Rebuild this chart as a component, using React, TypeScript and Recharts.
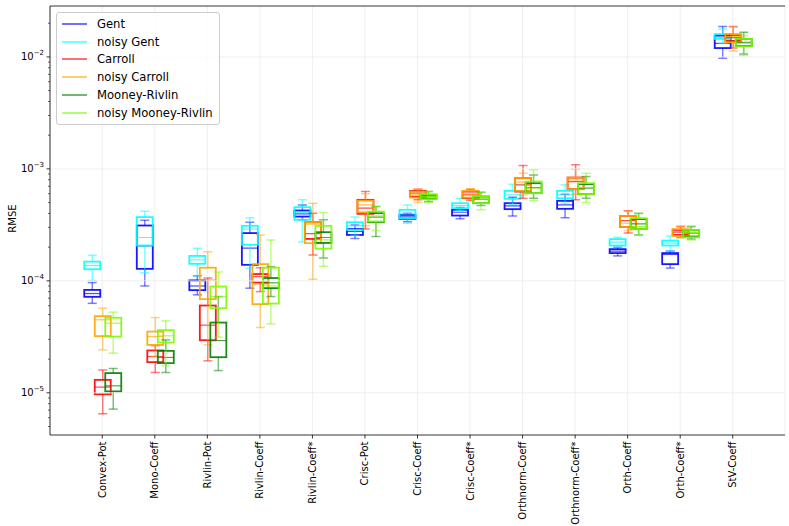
import { ComposedChart, Bar, XAxis, YAxis, CartesianGrid, ReferenceLine, Legend } from 'recharts'

const FONT = '"DejaVu Sans", sans-serif'

// ── Data: [lower whisker, q1, median, q3, upper whisker] per category ──────
const CATEGORIES = [
  'Convex-Pot', 'Mono-Coeff', 'Rivlin-Pot', 'Rivlin-Coeff', 'Rivlin-Coeff*', 'Crisc-Pot',
  'Crisc-Coeff', 'Crisc-Coeff*', 'Orthnorm-Coeff', 'Orthnorm-Coeff*', 'Orth-Coeff', 'Orth-Coeff*', 'StV-Coeff',
]

const GENT = [
  [6.3e-5, 7.2e-5, 7.7e-5, 8.3e-5, 9.65e-5],
  [9.0e-5, 1.28e-4, 2.05e-4, 3.12e-4, 3.48e-4],
  [7.5e-5, 8.26e-5, 9.0e-5, 1.01e-4, 1.11e-4],
  [8.6e-5, 1.39e-4, 1.96e-4, 2.67e-4, 3.34e-4],
  [3.51e-4, 3.75e-4, 3.97e-4, 4.25e-4, 4.77e-4],
  [2.39e-4, 2.57e-4, 2.76e-4, 2.9e-4, 3.16e-4],
  [3.38e-4, 3.58e-4, 3.73e-4, 3.88e-4, 4.02e-4],
  [3.58e-4, 3.83e-4, 4.1e-4, 4.31e-4, 4.51e-4],
  [3.8e-4, 4.37e-4, 4.67e-4, 4.94e-4, 5.58e-4],
  [3.67e-4, 4.4e-4, 4.77e-4, 5.18e-4, 5.94e-4],
  [1.67e-4, 1.77e-4, 1.84e-4, 1.92e-4, 2.0e-4],
  [1.3e-4, 1.41e-4, 1.72e-4, 1.77e-4, 1.85e-4],
  [9.73e-3, 1.2e-2, 1.32e-2, 1.55e-2, 1.87e-2],
]

const NOISY_GENT = [
  [1.007e-4, 1.27e-4, 1.37e-4, 1.485e-4, 1.69e-4],
  [1.18e-4, 2.07e-4, 2.44e-4, 3.71e-4, 4.19e-4],
  [1.11e-4, 1.42e-4, 1.54e-4, 1.67e-4, 1.96e-4],
  [1.3e-4, 2.1e-4, 2.9e-4, 3.1e-4, 3.67e-4],
  [2.22e-4, 3.51e-4, 4.07e-4, 4.55e-4, 5.29e-4],
  [2.56e-4, 2.85e-4, 3.1e-4, 3.34e-4, 3.71e-4],
  [3.27e-4, 3.63e-4, 3.97e-4, 4.31e-4, 4.77e-4],
  [4.25e-4, 4.46e-4, 4.7e-4, 4.94e-4, 5.47e-4],
  [4.84e-4, 5.4e-4, 5.86e-4, 6.36e-4, 7.3e-4],
  [4.94e-4, 5.47e-4, 5.86e-4, 6.36e-4, 7.2e-4],
  [2.0e-4, 2.07e-4, 2.22e-4, 2.36e-4, 2.45e-4],
  [1.85e-4, 2.07e-4, 2.17e-4, 2.29e-4, 2.52e-4],
  [1.32e-2, 1.45e-2, 1.49e-2, 1.6e-2, 1.78e-2],
]

const CARROLL = [
  [6.5e-6, 9.7e-6, 1.125e-5, 1.305e-5, 1.6e-5],
  [1.52e-5, 1.88e-5, 2.11e-5, 2.39e-5, 2.64e-5],
  [1.93e-5, 2.95e-5, 4.02e-5, 6.02e-5, 1.06e-4],
  [8.02e-5, 9.66e-5, 1.09e-4, 1.15e-4, 1.31e-4],
  [1.7e-4, 2.37e-4, 2.64e-4, 3.34e-4, 4.02e-4],
  [2.9e-4, 3.97e-4, 4.46e-4, 5.29e-4, 6.27e-4],
  [5.29e-4, 5.66e-4, 6.07e-4, 6.36e-4, 6.59e-4],
  [5.21e-4, 5.47e-4, 5.86e-4, 6.27e-4, 6.59e-4],
  [5.47e-4, 6.27e-4, 7.2e-4, 8.26e-4, 1.07e-3],
  [5.29e-4, 6.59e-4, 7.71e-4, 8.36e-4, 1.09e-3],
  [2.67e-4, 3.02e-4, 3.45e-4, 3.8e-4, 4.22e-4],
  [2.45e-4, 2.57e-4, 2.72e-4, 2.85e-4, 3.05e-4],
  [1.2e-2, 1.39e-2, 1.49e-2, 1.57e-2, 1.87e-2],
]

const NOISY_CARROLL = [
  [2.42e-5, 3.21e-5, 4.49e-5, 4.84e-5, 5.7e-5],
  [2.11e-5, 2.68e-5, 3.18e-5, 3.52e-5, 4.7e-5],
  [2.68e-5, 6.87e-5, 1.02e-4, 1.31e-4, 1.82e-4],
  [3.83e-5, 6.19e-5, 9.35e-5, 1.41e-4, 2.57e-4],
  [1.035e-4, 2.17e-4, 3.21e-4, 3.34e-4, 4.94e-4],
  [3.1e-4, 4.1e-4, 4.77e-4, 5.2e-4, 6.0e-4],
  [5.0e-4, 5.54e-4, 5.94e-4, 6.27e-4, 6.59e-4],
  [5.29e-4, 5.54e-4, 5.98e-4, 6.36e-4, 6.63e-4],
  [5.86e-4, 6.36e-4, 7.61e-4, 8.26e-4, 9.16e-4],
  [5.94e-4, 6.59e-4, 7.98e-4, 8.36e-4, 9.94e-4],
  [2.81e-4, 3.02e-4, 3.27e-4, 3.8e-4, 4.16e-4],
  [2.41e-4, 2.52e-4, 2.76e-4, 2.9e-4, 3.1e-4],
  [1.13e-2, 1.35e-2, 1.52e-2, 1.6e-2, 1.85e-2],
]

const MOONEY = [
  [7.15e-6, 1.03e-5, 1.155e-5, 1.5e-5, 1.65e-5],
  [1.52e-5, 1.84e-5, 2.07e-5, 2.37e-5, 2.97e-5],
  [1.58e-5, 2.08e-5, 2.93e-5, 4.24e-5, 7.24e-5],
  [7.24e-5, 8.6e-5, 9.6e-5, 1.06e-4, 1.34e-4],
  [1.6e-4, 2.18e-4, 2.44e-4, 2.72e-4, 3.51e-4],
  [2.49e-4, 3.34e-4, 3.71e-4, 4.02e-4, 4.61e-4],
  [5.11e-4, 5.4e-4, 5.62e-4, 5.86e-4, 6.27e-4],
  [4.7e-4, 4.94e-4, 5.36e-4, 5.66e-4, 6.19e-4],
  [5.47e-4, 6.07e-4, 6.81e-4, 7.45e-4, 8.84e-4],
  [5.47e-4, 5.94e-4, 6.73e-4, 7.3e-4, 8.53e-4],
  [2.57e-4, 2.9e-4, 3.23e-4, 3.56e-4, 4.02e-4],
  [2.36e-4, 2.49e-4, 2.67e-4, 2.85e-4, 3.05e-4],
  [1.06e-2, 1.25e-2, 1.35e-2, 1.45e-2, 1.66e-2],
]

const NOISY_MOONEY = [
  [2.26e-5, 3.18e-5, 4.19e-5, 4.68e-5, 5.25e-5],
  [1.74e-5, 2.81e-5, 3.23e-5, 3.63e-5, 4.39e-5],
  [3.14e-5, 5.7e-5, 7.24e-5, 8.9e-5, 1.2e-4],
  [4.13e-5, 6.27e-5, 9.0e-5, 1.31e-4, 2.32e-4],
  [1.35e-4, 1.94e-4, 2.32e-4, 3.1e-4, 4.07e-4],
  [2.81e-4, 3.39e-4, 3.8e-4, 4.16e-4, 4.61e-4],
  [5.0e-4, 5.36e-4, 5.66e-4, 5.94e-4, 6.27e-4],
  [4.31e-4, 4.94e-4, 5.47e-4, 5.71e-4, 6.14e-4],
  [5.18e-4, 6.07e-4, 6.73e-4, 7.71e-4, 9.8e-4],
  [5.0e-4, 5.94e-4, 6.81e-4, 7.45e-4, 9.16e-4],
  [2.57e-4, 2.9e-4, 3.05e-4, 3.63e-4, 3.97e-4],
  [2.32e-4, 2.45e-4, 2.7e-4, 2.85e-4, 3.1e-4],
  [1.03e-2, 1.24e-2, 1.32e-2, 1.45e-2, 1.55e-2],
]

const Y_MIN = 4.2e-6
const Y_MAX = 2.85e-2
const MAJOR_TICKS = [1e-5, 1e-4, 1e-3, 1e-2]
const MAJOR_LABELS = ['−5', '−4', '−3', '−2']
const MINOR_TICKS = [
  5e-6, 6e-6, 7e-6, 8e-6, 9e-6,
  2e-5, 3e-5, 4e-5, 5e-5, 6e-5, 7e-5, 8e-5, 9e-5,
  2e-4, 3e-4, 4e-4, 5e-4, 6e-4, 7e-4, 8e-4, 9e-4,
  2e-3, 3e-3, 4e-3, 5e-3, 6e-3, 7e-3, 8e-3, 9e-3,
  2e-2,
]

const SERIES = [
  { key: 'gent', name: 'Gent', color: '#0000ff', stats: GENT, axis: 'a' },
  { key: 'noisyGent', name: 'noisy Gent', color: '#00ffff', stats: NOISY_GENT, axis: 'b' },
  { key: 'carroll', name: 'Carroll', color: '#ff0000', stats: CARROLL, axis: 'a' },
  { key: 'noisyCarroll', name: 'noisy Carroll', color: '#ffa500', stats: NOISY_CARROLL, axis: 'b' },
  { key: 'mooney', name: 'Mooney-Rivlin', color: '#008000', stats: MOONEY, axis: 'a' },
  { key: 'noisyMooney', name: 'noisy Mooney-Rivlin', color: '#7cfc00', stats: NOISY_MOONEY, axis: 'b' },
]

const data = CATEGORIES.map((name, i) => {
  const row: Record<string, unknown> = { name }
  SERIES.forEach(s => { row[s.key] = s.stats[i] })
  return row
})

// ── Box shape: bar spans whisker range, inner stats placed on the log axis ──
function BoxShape(props: any) {
  const { x, y, width, height, payload, color, skey } = props
  const [lo, q1, med, q3, hi] = payload[skey] as number[]
  const top = Math.min(y, y + height)
  const h = Math.abs(height)
  const span = Math.log10(hi) - Math.log10(lo)
  const py = (v: number) => top + (h * (Math.log10(hi) - Math.log10(v))) / span
  const cx = x + width / 2
  const bw = 8
  const cw = 4.5
  return (
    <g>
      <line x1={cx} x2={cx} y1={py(hi)} y2={py(q3)} stroke={color} strokeOpacity={0.5} strokeWidth={1.5} />
      <line x1={cx} x2={cx} y1={py(q1)} y2={py(lo)} stroke={color} strokeOpacity={0.5} strokeWidth={1.5} />
      <line x1={cx - cw} x2={cx + cw} y1={py(hi)} y2={py(hi)} stroke={color} strokeOpacity={0.5} strokeWidth={1.5} />
      <line x1={cx - cw} x2={cx + cw} y1={py(lo)} y2={py(lo)} stroke={color} strokeOpacity={0.5} strokeWidth={1.5} />
      <rect x={cx - bw} y={py(q3)} width={bw * 2} height={py(q1) - py(q3)} fill="none" stroke={color} strokeOpacity={0.9} strokeWidth={1.8} />
      <line x1={cx - bw} x2={cx + bw} y1={py(med)} y2={py(med)} stroke={color} strokeOpacity={0.7} strokeWidth={1.2} />
    </g>
  )
}

// ── Axis ticks ─────────────────────────────────────────────────────────────
function YTick({ x, y, payload }: any) {
  const k = MAJOR_TICKS.findIndex(m => Math.abs(m - payload.value) / m < 1e-6)
  if (k < 0) return <line x1={x - 2} x2={x} y1={y} y2={y} stroke="#000" strokeWidth={0.6} />
  return (
    <g>
      <line x1={x - 3.5} x2={x} y1={y} y2={y} stroke="#000" strokeWidth={0.8} />
      <text x={x - 6} y={y} dy="0.35em" textAnchor="end" fontSize={10} fontFamily={FONT} fill="#000">
        10<tspan dy={-5} fontSize={7}>{MAJOR_LABELS[k]}</tspan>
      </text>
    </g>
  )
}

function XTick({ x, y, payload }: any) {
  return (
    <text x={0} y={0} transform={`translate(${x},${y}) rotate(-90)`} textAnchor="end" dy="0.35em"
      fontSize={10} fontFamily={FONT} fill="#000">
      {payload.value}
    </text>
  )
}

function YLabel({ viewBox }: any) {
  const cx = viewBox.x + 12
  const cy = viewBox.y + viewBox.height / 2 - 2
  return (
    <text x={cx} y={cy} transform={`rotate(-90 ${cx} ${cy})`} textAnchor="middle" dy="0.35em"
      fontSize={10} fontFamily={FONT} fill="#000">
      RMSE
    </text>
  )
}

// ── Legend ─────────────────────────────────────────────────────────────────
function LegendBox() {
  return (
    <div style={{
      background: 'rgba(255,255,255,0.8)', border: '1px solid #cccccc', borderRadius: 3,
      padding: '2px 6px 2px 5px', fontFamily: FONT, fontSize: 11.6, color: '#000',
    }}>
      {SERIES.map(s => (
        <div key={s.key} style={{ display: 'flex', alignItems: 'center', height: 17.8, whiteSpace: 'nowrap' }}>
          <svg width={25} height={4} style={{ marginRight: 10 }}>
            <line x1={0} x2={25} y1={2} y2={2} stroke={s.color} strokeOpacity={0.7} strokeWidth={1.6} />
          </svg>
          <span>{s.name}</span>
        </div>
      ))}
    </div>
  )
}

export default function App() {
  const axisLine = { stroke: '#000', strokeWidth: 0.8 }
  return (
    <div style={{ position: 'absolute', left: 0, top: 0, width: 789, height: 526, background: '#fff' }}>
      <ComposedChart width={789} height={526} data={data} barGap={0}
        margin={{ top: 6, right: 4, bottom: 0, left: 0 }}>
        <CartesianGrid xAxisId="a" yAxisId="main" horizontal={false} stroke="#ebebeb" strokeWidth={0.8} />
        <XAxis xAxisId="a" dataKey="name" type="category" interval={0} height={91}
          padding={{ left: 26, right: 26 }} tick={<XTick />} tickSize={3.5} tickMargin={3}
          axisLine={axisLine} tickLine={axisLine} />
        <XAxis xAxisId="b" dataKey="name" type="category" hide padding={{ left: 26, right: 26 }} />
        <YAxis yAxisId="main" type="number" scale="log" domain={[Y_MIN, Y_MAX]} allowDataOverflow
          ticks={[...MINOR_TICKS, ...MAJOR_TICKS]} interval={0} width={50}
          tick={<YTick />} tickLine={false} tickSize={0} tickMargin={0} axisLine={axisLine}
          label={(p: any) => <YLabel {...p} />} />
        <YAxis yAxisId="right" orientation="right" type="number" scale="log" domain={[Y_MIN, Y_MAX]}
          allowDataOverflow width={0} tick={false} tickLine={false} axisLine={axisLine} />
        {MAJOR_TICKS.map(v => (
          <ReferenceLine key={v} xAxisId="a" yAxisId="main" y={v} stroke="#ebebeb" strokeWidth={0.8} />
        ))}
        <ReferenceLine xAxisId="a" yAxisId="main" y={Y_MAX} stroke="#000" strokeWidth={0.8} />
        {SERIES.map(s => (
          <Bar key={s.key} name={s.name} xAxisId={s.axis} yAxisId="main" barSize={10.5}
            dataKey={(d: any) => [d[s.key][0], d[s.key][4]]} fill={s.color} isAnimationActive={false}
            shape={(p: any) => <BoxShape {...p} color={s.color} skey={s.key} />} />
        ))}
        <Legend layout="vertical" align="center" verticalAlign="middle"
          wrapperStyle={{ left: 56, top: 12, width: 'auto', height: 'auto' }}
          content={() => <LegendBox />} />
      </ComposedChart>
    </div>
  )
}
